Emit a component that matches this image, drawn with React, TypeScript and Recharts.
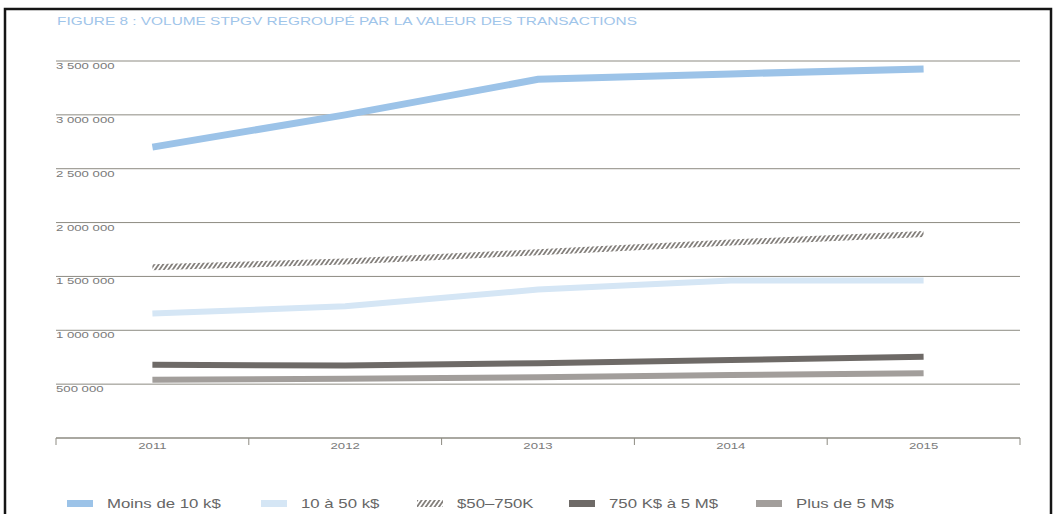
import React from 'react';
import { LineChart, Line, XAxis, YAxis, CartesianGrid, Legend } from 'recharts';

const TITLE = 'FIGURE 8 : VOLUME STPGV REGROUPÉ PAR LA VALEUR DES TRANSACTIONS';

const YEARS = [2011, 2012, 2013, 2014, 2015];
const YEAR_LABELS = ['2011', '2012', '2013', '2014', '2015'];

const MOINS_10K = [2700000, 3000000, 3330000, 3380000, 3426000];
const K10_A_50 = [1155000, 1223000, 1378000, 1463000, 1463000];
const K50_A_750 = [1586000, 1638000, 1725000, 1814000, 1895000];
const K750_A_5M = [680000, 672000, 695000, 723000, 754000];
const PLUS_5M = [540000, 549000, 565000, 584000, 602000];

const SERIES_NAMES = ['Moins de 10 k$', '10 à 50 k$', '$50–750K', '750 K$ à 5 M$', 'Plus de 5 M$'];
const SERIES_KEYS = ['moins10k', 'k10a50', 'k50a750', 'k750a5m', 'plus5m'];

const Y_TICKS = [500000, 1000000, 1500000, 2000000, 2500000, 3000000, 3500000];
const Y_TICK_LABELS = ['500 000', '1 000 000', '1 500 000', '2 000 000', '2 500 000', '3 000 000', '3 500 000'];

const data = YEARS.map((year, i) => ({
  year,
  moins10k: MOINS_10K[i],
  k10a50: K10_A_50[i],
  k50a750: K50_A_750[i],
  k750a5m: K750_A_5M[i],
  plus5m: PLUS_5M[i],
}));

const X_TICKS = [YEARS[0] - 0.5, ...YEARS.flatMap((y) => [y, y + 0.5])];

const FONT = '"Liberation Sans", Arial, Helvetica, sans-serif';
const GRID = '#8d8b82';
const LABEL = '#7a7a7a';
const STROKES = ['#9cc3e8', '#d5e6f5', 'url(#hatchLine)', '#6e6a67', '#a29e9b'];
const SWATCH_FILLS = ['#9cc3e8', '#d5e6f5', 'url(#hatchLegend)', '#6e6a67', '#a29e9b'];
const WIDTHS = [7, 6, 6, 6, 6];
const LEGEND_X = [67, 261, 417, 569, 756];

const HatchPattern = ({ id }: { id: string }) => (
  <pattern id={id} patternUnits="userSpaceOnUse" width={3.6} height={4} patternTransform="rotate(35)">
    <rect x={0} y={0} width={1.8} height={4} fill="#85817d" />
  </pattern>
);

const XTick = (props: any) => {
  const { x, y, payload } = props;
  const v = payload.value;
  const idx = YEARS.indexOf(v);
  if (idx >= 0) {
    return (
      <text
        transform={`translate(${x},${y + 8}) scale(1.55,1)`}
        textAnchor="middle"
        dominantBaseline="central"
        fontSize={8.5}
        fontFamily={FONT}
        fill={LABEL}
      >
        {YEAR_LABELS[idx]}
      </text>
    );
  }
  return <line x1={x} x2={x} y1={y} y2={y + 7} stroke={GRID} strokeWidth={1} />;
};

const YTick = (props: any) => {
  const { x, y, payload } = props;
  const idx = Y_TICKS.indexOf(payload.value);
  if (idx < 0) return null;
  return (
    <text
      transform={`translate(${x},${y + 5}) scale(1.55,1)`}
      textAnchor="start"
      dominantBaseline="central"
      fontSize={8.5}
      fontFamily={FONT}
      fill={LABEL}
    >
      {Y_TICK_LABELS[idx]}
    </text>
  );
};

const renderLegend = () => (
  <svg width={1057} height={24} style={{ display: 'block' }}>
    <defs>
      <HatchPattern id="hatchLegend" />
    </defs>
    {SERIES_NAMES.map((name, i) => (
      <g key={name}>
        <rect x={LEGEND_X[i]} y={8} width={26} height={7} fill={SWATCH_FILLS[i]} />
        <text
          transform={`translate(${LEGEND_X[i] + 40},${11.5}) scale(1.4,1)`}
          fontSize={12}
          fontFamily={FONT}
          fill="#666666"
          dominantBaseline="central"
        >
          {name}
        </text>
      </g>
    ))}
  </svg>
);

export default function App() {
  return (
    <div style={{ position: 'absolute', left: 0, top: 0, width: 1057, height: 514, overflow: 'hidden', background: '#fff' }}>
      <LineChart
        width={1057}
        height={514}
        data={data}
        margin={{ top: 61, right: 37, bottom: 75, left: 55 }}
      >
        <defs>
          <HatchPattern id="hatchLine" />
        </defs>
        <CartesianGrid vertical={false} stroke={GRID} strokeWidth={1} />
        <XAxis
          dataKey="year"
          type="number"
          domain={[YEARS[0] - 0.5, YEARS[YEARS.length - 1] + 0.5]}
          ticks={X_TICKS}
          interval={0}
          height={1}
          tickSize={0}
          tickMargin={0}
          tickLine={false}
          axisLine={{ stroke: GRID, strokeWidth: 1 }}
          tick={<XTick />}
        />
        <YAxis
          type="number"
          domain={[0, 3500000]}
          ticks={Y_TICKS}
          interval={0}
          width={1}
          tickSize={0}
          tickMargin={0}
          axisLine={false}
          tickLine={false}
          tick={<YTick />}
        />
        {SERIES_KEYS.map((key, i) => (
          <Line
            key={key}
            dataKey={key}
            name={SERIES_NAMES[i]}
            type="linear"
            stroke={STROKES[i]}
            strokeWidth={WIDTHS[i]}
            strokeLinecap="butt"
            dot={false}
            activeDot={false}
            isAnimationActive={false}
          />
        ))}
        <Legend
          layout="horizontal"
          verticalAlign="middle"
          align="center"
          content={renderLegend}
          wrapperStyle={{ position: 'absolute', top: 492, left: 0, width: 1057, height: 24, margin: 0 }}
        />
      </LineChart>
      <svg
        width={1057}
        height={514}
        style={{ position: 'absolute', left: 0, top: 0, pointerEvents: 'none' }}
      >
        <text
          x={57}
          y={21}
          textLength={580}
          lengthAdjust="spacingAndGlyphs"
          fontSize={10}
          fontFamily={FONT}
          fill="#9fc5ea"
          dominantBaseline="central"
        >
          {TITLE}
        </text>
        <rect x={5} y={9} width={1046} height={530} fill="none" stroke="#151515" strokeWidth={2.5} />
      </svg>
    </div>
  );
}
